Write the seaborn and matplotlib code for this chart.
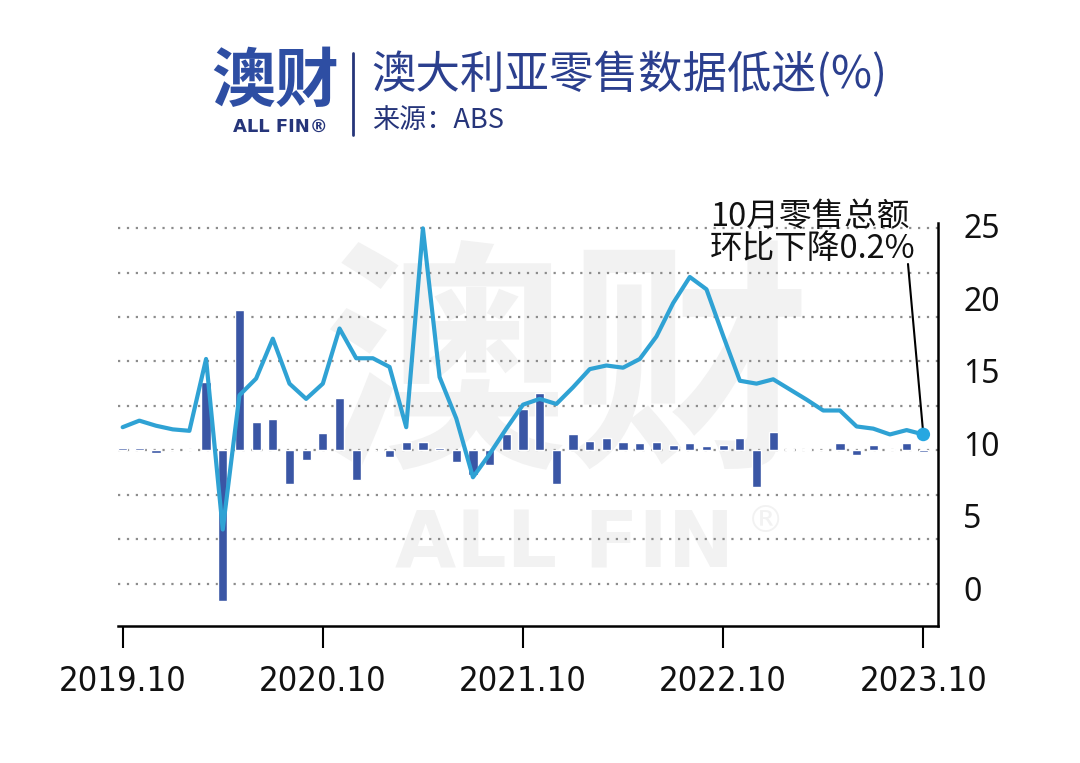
import os
import numpy as np
import pandas as pd
import matplotlib
matplotlib.use("Agg")
import matplotlib.pyplot as plt
from matplotlib.lines import Line2D
from matplotlib import font_manager as fm
import seaborn as sns

# ---------------- data ----------------
months = pd.period_range("2019-10", "2023-10", freq="M").strftime("%Y.%m").tolist()

mom_change = [0.3, 0.3, -0.35, 0.0, 0.2, 7.7, -17.0, 15.8, 3.15, 3.5, -3.75, -1.1,
              1.9, 5.9, -3.3, 0.0, -0.75, 0.95, 0.95, 0.3, -1.35, -2.8, -1.6, 1.8,
              4.7, 6.5, -3.75, 1.8, 1.1, 1.35, 0.97, 0.8, 0.95, 0.6, 0.85, 0.5,
              0.6, 1.35, -4.1, 2.1, 0.1, 0.2, 0.0, 0.85, -0.55, 0.6, 0.15, 0.85, -0.2]

line_values = [11.1, 11.55, 11.2, 10.95, 10.85, 15.8, 4.05, 13.3, 14.45, 17.2, 14.1, 13.05,
               14.1, 17.9, 15.85, 15.85, 15.25, 11.1, 24.8, 14.55, 11.7, 7.65, 9.25, 11.0,
               12.65, 13.05, 12.7, 13.85, 15.1, 15.35, 15.2, 15.8, 17.35, 19.65, 21.45, 20.6,
               17.4, 14.3, 14.1, 14.4, 13.7, 13.0, 12.25, 12.25, 11.15, 11.0, 10.6, 10.9, 10.6]

tick_labels = ["2019.10", "2020.10", "2021.10", "2022.10", "2023.10"]
right_ticks = [0, 5, 10, 15, 20, 25]
grid_levels = [-15, -10, -5, 0, 5, 10, 15, 20, 25]

title = "澳大利亚零售数据低迷(%)"
source = "来源：ABS"
annotation_lines = ["10月零售总额", "环比下降0.2%"]
logo_text = "澳财"
logo_sub = "ALL FIN®"
watermark_main = "澳财"
watermark_sub = "ALL FIN"
watermark_reg = "®"

# ---------------- style ----------------
sns.set_theme(style="white")
plt.rcParams["font.family"] = ["Noto Sans CJK SC", "DejaVu Sans"]


def pick_condensed():
    """Find a narrow/condensed regular sans face if one is installed."""
    prefs = ["LiberationSansNarrow-Regular", "DejaVuSansCondensed.ttf",
             "NotoSans-Condensed.ttf", "NotoSans-CondensedLight", "RobotoCondensed-Regular",
             "Roboto-Condensed", "NotoSans-SemiCondensed.ttf"]
    files = [f.fname for f in fm.fontManager.ttflist]
    for p in prefs:
        for fn in files:
            if p.lower() in os.path.basename(fn).lower():
                return fm.FontProperties(fname=fn)
    for f in fm.fontManager.ttflist:
        b = os.path.basename(f.fname).lower()
        if ("narrow" in b or "condensed" in b) and "bold" not in b and "italic" not in b \
                and "oblique" not in b and "black" not in b:
            return fm.FontProperties(fname=f.fname)
    return fm.FontProperties(family="Liberation Sans")


W, H = 1080, 763
fig = plt.figure(figsize=(W / 100, H / 100), dpi=100)
fig.patch.set_facecolor("white")


def fx(x):
    return x / W


def fy(y):
    return 1 - y / H


ax = fig.add_axes([fx(118), fy(626), (938 - 118) / W, (626 - 223) / H])
ax.patch.set_alpha(0)

df = pd.DataFrame({"idx": np.arange(len(months)), "month": months,
                   "mom": mom_change, "val": line_values})

sns.barplot(data=df, x="idx", y="mom", native_scale=True, color="#3a56a5",
            saturation=1, width=0.55, errorbar=None, ax=ax, zorder=2)

ax.set_ylim(-19.76, 25.57)
ax.set_yticks(grid_levels)
ax.yaxis.grid(True, linestyle=(0, (1, 3)), color="#8c8c8c", linewidth=1.6)
ax.xaxis.grid(False)
ax.set_axisbelow(True)
ax.tick_params(axis="y", left=False, right=False, labelleft=False, length=0)

# x tick labels in a narrow face, sized so "2019.10" is about 128 px wide
cond = pick_condensed()
renderer = fig.canvas.get_renderer()
probe = fig.text(0, 0, tick_labels[0], fontproperties=cond, fontsize=30)
wpx = probe.get_window_extent(renderer).width
probe.remove()
tick_size = min(31, 30 * 128 / max(wpx, 1))

tick_pos = [months.index(t) for t in tick_labels]
ax.set_xticks(tick_pos)
ax.set_xticklabels(tick_labels)
for lab in ax.get_xticklabels():
    lab.set_fontproperties(cond)
    lab.set_fontsize(tick_size)
    lab.set_color("#111111")
ax.tick_params(axis="x", bottom=True, direction="out", length=16, width=1.5,
               color="black", pad=12)
for s in ["left", "top", "right"]:
    ax.spines[s].set_visible(False)
ax.spines["bottom"].set_color("black")
ax.spines["bottom"].set_linewidth(1.8)
ax.set_xlabel("")
ax.set_ylabel("")

# watermark behind the data
wm_color = "#f2f2f2"
ax.text(fx(567), fy(377), watermark_main, transform=fig.transFigure, fontsize=176,
        fontweight="bold", color=wm_color, ha="center", va="center", zorder=0.1)
ax.text(fx(565), fy(546), watermark_sub, transform=fig.transFigure, fontsize=57,
        fontweight="bold", color=wm_color, ha="center", va="center", zorder=0.1,
        family="DejaVu Sans")
ax.text(fx(766), fy(522), watermark_reg, transform=fig.transFigure, fontsize=27,
        color=wm_color, ha="center", va="center", zorder=0.1, family="DejaVu Sans")

# line series on right axis
ax2 = ax.twinx()
sns.lineplot(data=df, x="idx", y="val", ax=ax2, color="#2fa2d4", linewidth=3.0,
             zorder=3)
last = df.iloc[-1]
sns.scatterplot(x=[last["idx"]], y=[last["val"]], ax=ax2, s=95, color="#27a7e1",
                edgecolor="none", zorder=4)
ax2.set_ylim(-2.6, 25.17)
ax2.set_yticks(right_ticks)
ax2.set_yticklabels([str(t) for t in right_ticks], fontsize=23,
                    family=["Noto Sans", "DejaVu Sans"], color="#111111")
ax2.tick_params(axis="y", right=True, length=0, pad=18)
for s in ["left", "top", "bottom"]:
    ax2.spines[s].set_visible(False)
ax2.spines["right"].set_color("black")
ax2.spines["right"].set_linewidth(1.8)
ax2.grid(False)
ax2.set_xlabel("")
ax2.set_ylabel("")
ax.set_xlim(-0.28, 48.88)

# annotation
ax2.annotate("", xy=(last["idx"], last["val"]), xycoords="data",
             xytext=(908, H - 264), textcoords="figure pixels",
             arrowprops=dict(arrowstyle="-", color="black", lw=1.5,
                             shrinkA=0, shrinkB=0), zorder=3.5)
fig.text(fx(710), fy(233), "\n".join(annotation_lines), fontsize=23.5,
         color="#111111", ha="left", va="center", linespacing=1.0)

# header
fig.text(fx(211), fy(82), logo_text, fontsize=46, fontweight="bold",
         color="#2e4ea3", ha="left", va="center")
fig.text(fx(233), fy(127), logo_sub, fontsize=13, fontweight="bold",
         color="#26357a", ha="left", va="center", family="DejaVu Sans")
fig.add_artist(Line2D([fx(353), fx(353)], [fy(53), fy(135)], color="#26357a", lw=2.0))
fig.text(fx(371), fy(75), title, fontsize=32, color="#2b3f8e", ha="left", va="center")
fig.text(fx(372), fy(121), source, fontsize=19.5, color="#26357a", ha="left", va="center")

fig.savefig("out.png", dpi=100, facecolor="white")
